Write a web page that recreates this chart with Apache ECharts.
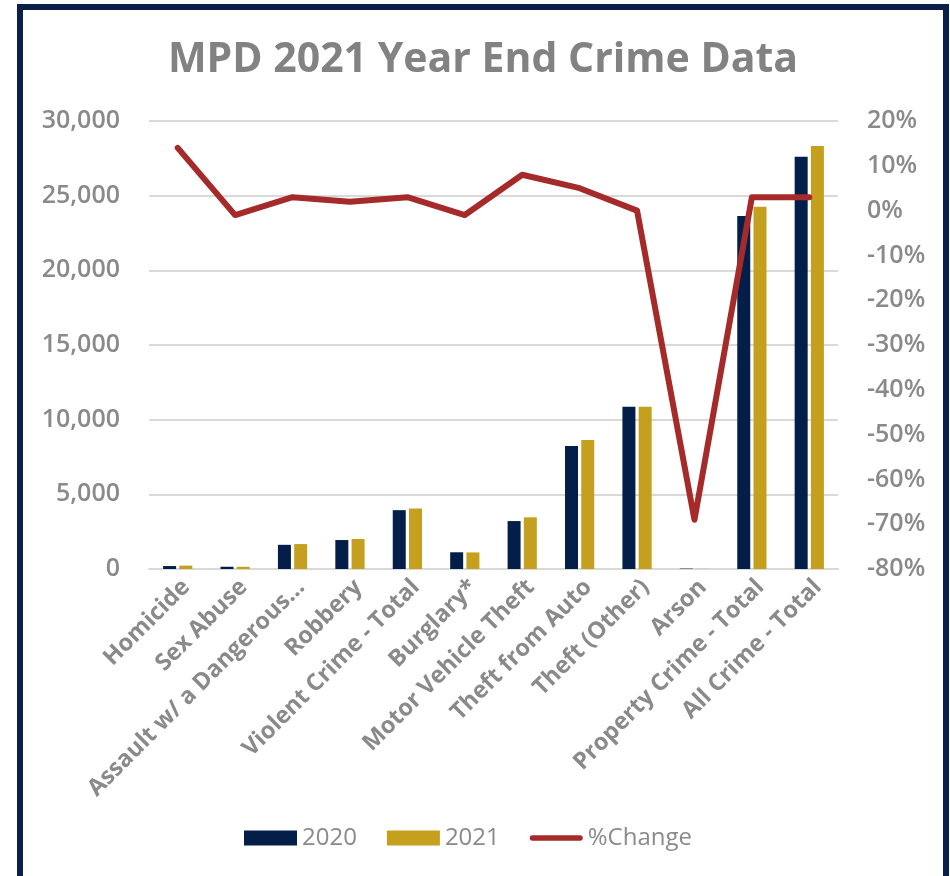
<!DOCTYPE html>
<html>
<head>
<meta charset="utf-8">
<script src="https://cdn.jsdelivr.net/npm/echarts@6/dist/echarts.min.js"></script>
<style>
html,body{margin:0;padding:0;background:#fff;overflow:hidden;}
#frame{position:absolute;left:17px;top:4px;width:932px;height:900px;border:6px solid #0a1f4a;box-sizing:border-box;}
#chart{position:absolute;left:0;top:0;width:950px;height:876px;}
</style>
</head>
<body>
<div id="chart"></div>
<div id="frame"></div>
<script>
const categories = ['Homicide','Sex Abuse','Assault w/ a Dangerous…','Robbery','Violent Crime - Total','Burglary*','Motor Vehicle Theft','Theft from Auto','Theft (Other)','Arson','Property Crime - Total','All Crime - Total'];
const values2020 = [198, 150, 1620, 1940, 3940, 1120, 3210, 8240, 10870, 26, 23640, 27600];
const values2021 = [226, 148, 1670, 2010, 4050, 1110, 3460, 8640, 10870, 8, 24250, 28330];
const pctChange = [14, -1, 3, 2, 3, -1, 8, 5, 0, -69, 3, 3];
const leftTicks = {min: 0, max: 30000, interval: 5000};
const rightTicks = {min: -80, max: 20, interval: 10};

const gray = '#8a8a8a';
const font = '"Open Sans", "Noto Sans", sans-serif';
const chart = echarts.init(document.getElementById('chart'));
chart.setOption({
  animation: false,
  textStyle: {fontFamily: font},
  title: {
    text: 'MPD 2021 Year End Crime Data',
    left: 478, top: 35, textAlign: 'center',
    textStyle: {fontFamily: font, fontSize: 41, fontWeight: 'bold', color: '#828282'}
  },
  legend: {
    left: 239, top: 821,
    itemWidth: 53, itemHeight: 15, itemGap: 30,
    textStyle: {fontFamily: font, fontSize: 24, color: gray, padding: [0,0,0,0]},
    data: [
      {name: '2020', icon: 'rect'},
      {name: '2021', icon: 'rect'},
      {name: '%Change', icon: 'path://M0,0 M0,15 M2.5,4.5 L56,4.5 A2.5,2.5 0 0 1 56,10.5 L2.5,10.5 A2.5,2.5 0 0 1 2.5,4.5 Z', itemStyle: {borderWidth: 0}}
    ]
  },
  grid: {left: 149, right: 112, top: 121, bottom: 307, containLabel: false},
  xAxis: {
    type: 'category', data: categories,
    axisLine: {show: true, lineStyle: {color: '#d9d9d9', width: 2}},
    axisTick: {show: false},
    axisLabel: {rotate: 45, interval: 0, margin: 6, verticalAlign: 'top', color: gray, fontSize: 23.5, fontWeight: 'bold', fontFamily: font}
  },
  yAxis: [
    {type: 'value', min: leftTicks.min, max: leftTicks.max, interval: leftTicks.interval,
     axisLine: {show: false}, axisTick: {show: false},
     splitLine: {lineStyle: {color: '#d9d9d9', width: 2}},
     axisLabel: {margin: 29, color: gray, fontSize: 25, fontWeight: 600, fontFamily: font,
       formatter: v => v === 0 ? '0' : v.toLocaleString('en-US')}},
    {type: 'value', min: rightTicks.min, max: rightTicks.max, interval: rightTicks.interval,
     axisLine: {show: false}, axisTick: {show: false}, splitLine: {show: false},
     axisLabel: {margin: 29, color: gray, fontSize: 25, fontWeight: 600, fontFamily: font, formatter: '{value}%'}}
  ],
  series: [
    {name: '2020', type: 'bar', data: values2020, barWidth: 13, barGap: '25%', itemStyle: {color: '#041e4a'}},
    {name: '2021', type: 'bar', data: values2021, barWidth: 13, itemStyle: {color: '#c4a01e'}},
    {name: '%Change', type: 'line', yAxisIndex: 1, data: pctChange, symbol: 'none',
     itemStyle: {color: '#a52a2a'},
     lineStyle: {color: '#a52a2a', width: 6, cap: 'round', join: 'round'}}
  ]
});
</script>
</body>
</html>
